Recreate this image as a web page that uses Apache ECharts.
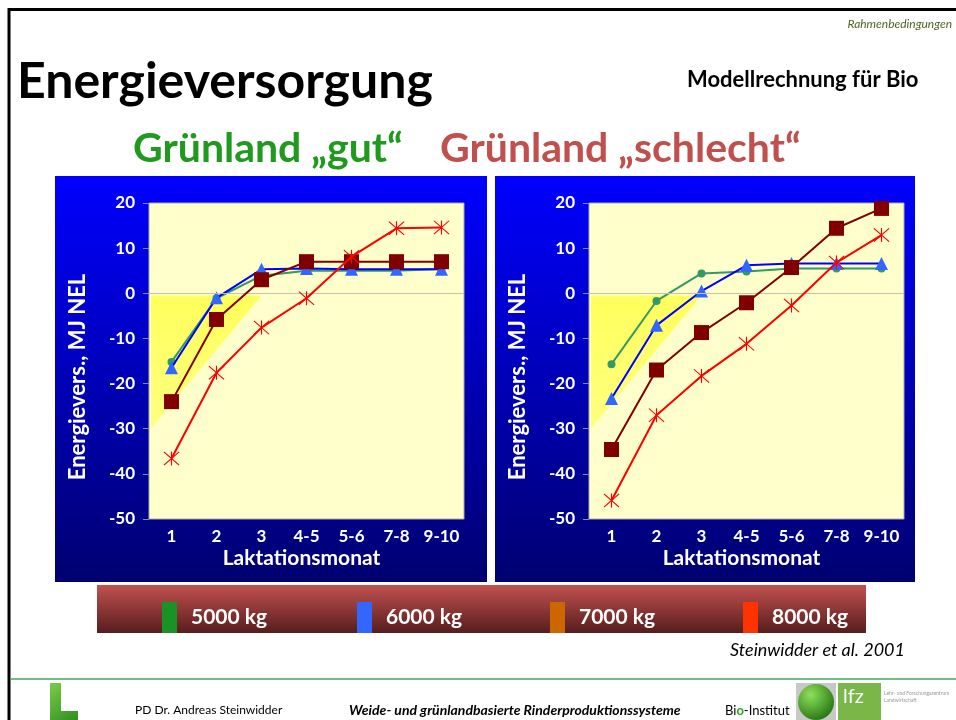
<!DOCTYPE html>
<html>
<head>
<meta charset="utf-8">
<script src="https://cdn.jsdelivr.net/npm/echarts@6/dist/echarts.min.js"></script>
<style>
  html, body { margin: 0; padding: 0; background: #fff; }
  #main { width: 956px; height: 720px; }
</style>
</head>
<body>
<div id="main"></div>
<script>
  // Kategorien (Laktationsmonat)
  var categories = ['1', '2', '3', '4-5', '5-6', '7-8', '9-10']
  var seriesNames = ['5000 kg', '6000 kg', '7000 kg', '8000 kg']
  var yTicks = { min: -50, max: 20, interval: 10 }

  // Grünland "gut"
  var gut5000 = [-15.2, -1.1, 3.9, 5.0, 5.0, 5.0, 5.4]
  var gut6000 = [-16.5, -1.0, 5.3, 5.5, 5.3, 5.3, 5.3]
  var gut7000 = [-24.0, -5.8, 3.0, 7.0, 7.0, 7.0, 7.0]
  var gut8000 = [-36.6, -17.6, -7.6, -1.1, 8.1, 14.4, 14.6]

  // Grünland "schlecht"
  var schlecht5000 = [-15.7, -1.7, 4.4, 4.8, 5.5, 5.5, 5.5]
  var schlecht6000 = [-23.3, -7.1, 0.5, 6.2, 6.6, 6.6, 6.6]
  var schlecht7000 = [-34.6, -17.0, -8.7, -2.1, 5.7, 14.4, 18.8]
  var schlecht8000 = [-45.9, -27.0, -18.3, -11.2, -2.7, 6.8, 12.9]

  // gelbes Dreieck (Energiedefizit-Bereich): Oberkante, Unterkante, Spitze bei Kategorie-Index
  var triTop = -0.5
  var triBottom = -30
  var triTipIndex = 2

  var FONT = 'Lato'
  var lineColors = ['#339966', '#0000ff', '#800000', '#ff0000']
  var markerColors = ['#339966', '#3366ff', '#800000', '#ff0000']
  var legendColors = ['#1a9226', '#3366ff', '#cc6600', '#ff3300']
  var starPath = 'path://M9.3 0H10.7V20H9.3Z M0 1L1 0L20 19L19 20Z M19 0L20 1L1 20L0 19Z'
  var symbols = ['circle', 'triangle', 'rect', starPath]
  var symbolSizes = [8, 13, 15, [16, 14]]

  var myChart = echarts.init(document.getElementById('main'))

  function makeAxes(idx) {
    return {
      x: {
        type: 'category',
        gridIndex: idx,
        data: categories,
        boundaryGap: true,
        axisLine: { show: false },
        axisTick: { show: false },
        axisLabel: { interval: 0, color: '#fff', fontFamily: FONT, fontWeight: 'bold', fontSize: 17, margin: 9 },
        name: 'Laktationsmonat',
        nameLocation: 'middle',
        nameGap: 29,
        nameTextStyle: { color: '#fff', fontFamily: FONT, fontWeight: 'bold', fontSize: 21, padding: [0, 10, 0, 0] },
        splitLine: { show: false },
      },
      y: {
        type: 'value',
        gridIndex: idx,
        min: yTicks.min,
        max: yTicks.max,
        interval: yTicks.interval,
        axisLine: { show: false },
        axisTick: { show: true, length: 6, lineStyle: { color: '#7c86c8' } },
        axisLabel: { color: '#fff', fontFamily: FONT, fontWeight: 'bold', fontSize: 17, margin: 14 },
        name: 'Energievers., MJ NEL',
        nameLocation: 'middle',
        nameGap: 60,
        // etwas nach unten versetzt wie im Original
        nameTextStyle: { color: '#fff', fontFamily: FONT, fontWeight: 'bold', fontSize: 22, padding: [0, 32, 0, 0] },
        splitLine: { show: false },
      },
    }
  }

  function makeSeries(idx, arrays) {
    var list = []
    // gelbes Dreieck
    list.push({
      type: 'custom',
      xAxisIndex: idx,
      yAxisIndex: idx,
      silent: true,
      z: 1,
      data: [[0, triTop]],
      renderItem: function (params, api) {
        var bw = api.size([1, 0])[0]
        var p0 = api.coord([0, triTop])
        var left = p0[0] - bw / 2 + 2
        var right = api.coord([triTipIndex, triTop])[0]
        var bottom = api.coord([0, triBottom])[1]
        return {
          type: 'polygon',
          shape: { points: [[left, p0[1]], [right, p0[1]], [left, bottom]] },
          style: {
            fill: new echarts.graphic.LinearGradient(0, 0, 0, 1, [
              { offset: 0, color: '#ffff5c' },
              { offset: 1, color: '#ffff80' },
            ]),
          },
        }
      },
    })
    arrays.forEach(function (arr, i) {
      var s = {
        name: seriesNames[i],
        type: 'line',
        xAxisIndex: idx,
        yAxisIndex: idx,
        data: arr,
        symbol: symbols[i],
        symbolSize: symbolSizes[i],
        showAllSymbol: true,
        z: 3 + i,
        lineStyle: { color: lineColors[i], width: 2 },
        itemStyle: { color: markerColors[i], borderWidth: 0 },
        emphasis: { disabled: true },
      }
      if (i === 0) {
        s.markLine = {
          silent: true,
          symbol: 'none',
          label: { show: false },
          lineStyle: { color: '#c4c4ae', type: 'solid', width: 1.2 },
          data: [{ yAxis: 0 }],
        }
      }
      list.push(s)
    })
    return list
  }

  var a0 = makeAxes(0)
  var a1 = makeAxes(1)

  var legends = [157, 352, 545, 738].map(function (left, i) {
    return {
      left: left,
      top: 597,
      icon: 'rect',
      itemWidth: 15,
      itemHeight: 31,
      selectedMode: false,
      textStyle: { color: '#fff', fontFamily: FONT, fontWeight: 'bold', fontSize: 21, padding: [0, 0, 0, 9] },
      data: [{ name: seriesNames[i], itemStyle: { color: legendColors[i] }, lineStyle: { width: 0 } }],
    }
  })

  var panelGrad = function () {
    return new echarts.graphic.LinearGradient(0, 0, 0, 1, [
      { offset: 0, color: '#0000ff' },
      { offset: 1, color: '#000070' },
    ])
  }

  var option = {
    animation: false,
    backgroundColor: '#ffffff',
    textStyle: { fontFamily: FONT },
    grid: [
      { left: 149, top: 203, width: 315, height: 316, show: true, backgroundColor: '#ffffcc', borderColor: '#aaaaa0', borderWidth: 1 },
      { left: 589, top: 203, width: 315, height: 316, show: true, backgroundColor: '#ffffcc', borderColor: '#aaaaa0', borderWidth: 1 },
    ],
    xAxis: [a0.x, a1.x],
    yAxis: [a0.y, a1.y],
    legend: legends,
    series: makeSeries(0, [gut5000, gut6000, gut7000, gut8000]).concat(
      makeSeries(1, [schlecht5000, schlecht6000, schlecht7000, schlecht8000])
    ),
    graphic: [
      // Rahmen
      { type: 'line', z: 10, shape: { x1: 8, y1: 9.5, x2: 956, y2: 9.5 }, style: { stroke: '#000', lineWidth: 3 } },
      { type: 'line', z: 10, shape: { x1: 9, y1: 8, x2: 9, y2: 720 }, style: { stroke: '#000', lineWidth: 3 } },
      // blaue Diagrammflächen
      { type: 'rect', z: -10, shape: { x: 55, y: 176, width: 432, height: 406 }, style: { fill: panelGrad() } },
      { type: 'rect', z: -10, shape: { x: 495, y: 176, width: 420, height: 406 }, style: { fill: panelGrad() } },
      // Legendenbalken
      {
        type: 'rect', z: -10,
        shape: { x: 97, y: 585, width: 769, height: 48 },
        style: {
          fill: new echarts.graphic.LinearGradient(0, 0, 0, 1, [
            { offset: 0, color: '#c25250' },
            { offset: 1, color: '#561d1d' },
          ]),
        },
      },
      // Texte
      {
        type: 'text', z: 10, x: 952, y: 24,
        style: { text: 'Rahmenbedingungen', fill: '#4f6228', fontFamily: FONT, fontStyle: 'italic', fontSize: 12, align: 'right', verticalAlign: 'middle' },
      },
      {
        type: 'text', z: 10, x: 17, y: 82,
        style: { text: 'Energieversorgung', fill: '#000', fontFamily: FONT, fontWeight: 'bold', fontSize: 50, align: 'left', verticalAlign: 'middle' },
      },
      {
        type: 'text', z: 10, x: 687, y: 80,
        style: { text: 'Modellrechnung für Bio', fill: '#000', fontFamily: FONT, fontWeight: 'bold', fontSize: 22, align: 'left', verticalAlign: 'middle' },
      },
      {
        type: 'text', z: 10, x: 133, y: 149,
        style: { text: 'Grünland „gut“', fill: '#1f9a1f', fontFamily: FONT, fontWeight: 'bold', fontSize: 41, align: 'left', verticalAlign: 'middle' },
      },
      {
        type: 'text', z: 10, x: 440, y: 149,
        style: { text: 'Grünland „schlecht“', fill: '#c0504d', fontFamily: FONT, fontWeight: 'bold', fontSize: 41, align: 'left', verticalAlign: 'middle' },
      },
      {
        type: 'text', z: 10, x: 905, y: 650,
        style: { text: 'Steinwidder et al. 2001', fill: '#000', fontFamily: FONT, fontStyle: 'italic', fontSize: 18, align: 'right', verticalAlign: 'middle' },
      },
      // Fußzeile
      { type: 'line', z: 10, shape: { x1: 10, y1: 679, x2: 956, y2: 679 }, style: { stroke: '#3daa5c', lineWidth: 1.5 } },
      {
        type: 'polygon', z: 10,
        shape: { points: [[50, 683], [61, 683], [61, 711], [78, 711], [78, 720], [50, 720]] },
        style: {
          fill: new echarts.graphic.LinearGradient(0, 0, 1, 1, [
            { offset: 0, color: '#7ccc4a' },
            { offset: 1, color: '#2f8f1f' },
          ]),
        },
      },
      {
        type: 'text', z: 10, x: 135, y: 710,
        style: { text: 'PD Dr. Andreas Steinwidder', fill: '#000', fontFamily: FONT, fontSize: 12, align: 'left', verticalAlign: 'middle' },
      },
      {
        type: 'text', z: 10, x: 349, y: 710,
        style: { text: 'Weide- und grünlandbasierte Rinderproduktionssysteme', fill: '#000', fontFamily: FONT, fontWeight: 'bold', fontStyle: 'italic', fontSize: 14, align: 'left', verticalAlign: 'middle' },
      },
      {
        type: 'text', z: 10, x: 725, y: 711,
        style: {
          text: '{a|Bi}{b|o}{a|-Institut}',
          verticalAlign: 'middle',
          rich: {
            a: { fill: '#000', fontFamily: FONT, fontSize: 13 },
            b: { fill: '#22aa22', fontFamily: FONT, fontSize: 13, fontWeight: 'bold' },
          },
        },
      },
      { type: 'rect', z: 10, shape: { x: 796, y: 683, width: 40, height: 37 }, style: { fill: '#c8c8c8' } },
      {
        type: 'circle', z: 11, shape: { cx: 816, cy: 702, r: 18 },
        style: {
          fill: new echarts.graphic.RadialGradient(0.35, 0.3, 0.8, [
            { offset: 0, color: '#8fe05a' },
            { offset: 1, color: '#1f6f10' },
          ]),
        },
      },
      { type: 'rect', z: 10, shape: { x: 838, y: 683, width: 43, height: 37 }, style: { fill: '#7ab648' } },
      {
        type: 'text', z: 11, x: 843, y: 697,
        style: { text: 'lfz', fill: '#fff', fontFamily: FONT, fontSize: 20, align: 'left', verticalAlign: 'middle' },
      },
      {
        type: 'text', z: 11, x: 884, y: 697,
        style: { text: 'Lehr- und Forschungszentrum\nLandwirtschaft', fill: '#999', fontFamily: FONT, fontSize: 5, lineHeight: 7, align: 'left', verticalAlign: 'middle' },
      },
    ],
  }

  myChart.setOption(option)
</script>
</body>
</html>
